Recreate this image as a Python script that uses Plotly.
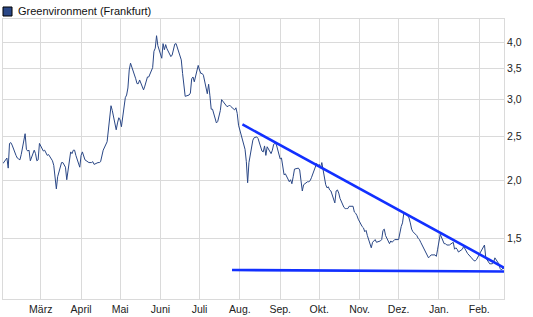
import numpy as np
import pandas as pd
import plotly.graph_objects as go

# Daily closing prices (EUR), trading days 2008-02-01 .. 2009-02-20
prices = [
    2.18,
    2.24, 2.13, 2.41, 2.42, 2.39,
    2.27, 2.24, 2.23, 2.22, 2.28,
    2.53, 2.34, 2.32, 2.33, 2.21,
    2.33, 2.29, 2.21, 2.22, 2.41,
    2.32, 2.33, 2.30, 2.27, 2.28,
    2.21, 2.16, 2.03, 1.92, 2.04,
    2.19, 2.19, 2.17, 2.14, 2.01,
    2.31, 2.29, 2.33, 2.33, 2.27,
    2.14, 2.27, 2.31, 2.25, 2.22,
    2.19, 2.19, 2.19, 2.20, 2.17,
    2.19, 2.19, 2.20, 2.25, 2.33,
    2.43, 2.59, 2.77, 2.91, 2.84,
    2.58, 2.67, 2.74, 2.71, 2.62,
    3.03, 3.07, 3.18, 3.48, 3.60,
    3.41, 3.33, 3.25, 3.25, 3.31,
    3.15, 3.21, 3.29, 3.36, 3.36,
    3.52, 3.82, 3.88, 4.13, 3.93,
    3.69, 3.97, 3.85, 3.95, 3.87,
    3.72, 3.75, 3.89, 3.96, 3.97,
    3.71, 3.66, 3.42, 3.17, 3.05,
    3.07, 3.10, 3.33, 3.36, 3.28,
    3.56, 3.48, 3.42, 3.42, 3.39,
    3.09, 3.24, 3.06, 2.86, 2.86,
    2.67, 2.69, 2.76, 2.84, 3.00,
    2.91, 2.90, 2.90, 2.92, 2.90,
    2.85, 2.88, 2.80, 2.64, 2.58,
    2.39, 2.34, 2.20, 1.98, 2.19,
    2.45, 2.48, 2.49, 2.49, 2.47,
    2.32, 2.31, 2.38, 2.27, 2.37,
    2.29, 2.33, 2.40, 2.41, 2.40,
    2.23, 2.24, 2.15, 2.06, 2.07,
    1.99, 2.01, 1.97, 2.04, 2.12,
    2.13, 2.11, 2.00, 1.90, 1.96,
    1.99, 1.99, 2.00, 2.03, 2.07,
    2.18, 2.15, 2.17, 2.13, 2.19,
    1.96, 1.93, 1.94, 1.91, 1.90,
    1.79, 1.90, 1.91, 1.88, 1.83,
    1.75, 1.74, 1.74, 1.74, 1.76,
    1.76, 1.71, 1.70, 1.68, 1.65,
    1.59, 1.58, 1.55, 1.56, 1.52,
    1.43, 1.47, 1.48, 1.49, 1.47,
    1.48, 1.49, 1.56, 1.57, 1.52,
    1.46, 1.48, 1.47, 1.48, 1.49,
    1.49, 1.56, 1.59, 1.62, 1.70,
    1.68, 1.66, 1.62, 1.57, 1.55,
    1.52, 1.50, 1.49, 1.47, 1.45,
    1.40, 1.38, 1.36, 1.37, 1.38,
    1.38, 1.37, 1.42, 1.48, 1.53,
    1.46, 1.46, 1.45, 1.45, 1.45,
    1.47, 1.42, 1.43, 1.42, 1.40,
    1.42, 1.44, 1.42, 1.40, 1.39,
    1.36, 1.35, 1.34, 1.34, 1.35,
    1.40, 1.42, 1.44, 1.45, 1.36,
    1.32, 1.32, 1.32, 1.33, 1.36,
    1.32, 1.29, 1.28, 1.29, 1.30,
]
dates = pd.bdate_range("2008-02-01", "2009-02-20")[:len(prices)]

# Hand-drawn trend lines (date, price)
resist_dates = ["2008-08-03", "2009-02-21"]
resist_vals = [2.65, 1.29]
support_dates = ["2008-07-26", "2009-02-21"]
support_vals = [1.28, 1.27]

month_ticks = ["2008-03-01", "2008-04-01", "2008-05-01", "2008-06-01", "2008-07-01",
               "2008-08-01", "2008-09-01", "2008-10-01", "2008-11-01", "2008-12-01",
               "2009-01-01", "2009-02-01"]
month_labels = ["März", "April", "Mai", "Juni", "Juli", "Aug.", "Sep.", "Okt.",
                "Nov.", "Dez.", "Jan.", "Feb."]
y_ticks = [1.5, 2.0, 2.5, 3.0, 3.5, 4.0]
y_labels = ["1,5", "2,0", "2,5", "3,0", "3,5", "4,0"]
series_name = "Greenvironment (Frankfurt)"

LINE = "#2a4786"
TREND = "#1230ff"
GRID = "#dadada"
FONT = "Liberation Sans"

fig = go.Figure()
fig.add_trace(go.Scatter(x=dates, y=prices, mode="lines",
                         line=dict(color=LINE, width=1), showlegend=False,
                         hoverinfo="skip"))
fig.add_trace(go.Scatter(x=resist_dates, y=resist_vals, mode="lines",
                         line=dict(color=TREND, width=2.6), showlegend=False,
                         hoverinfo="skip"))
fig.add_trace(go.Scatter(x=support_dates, y=support_vals, mode="lines",
                         line=dict(color=TREND, width=2.6), showlegend=False,
                         hoverinfo="skip"))

fig.update_layout(
    width=533, height=317,
    margin=dict(l=3, r=29, t=19, b=18),
    paper_bgcolor="white", plot_bgcolor="white",
    font=dict(family=FONT, size=11, color="#222"),
    showlegend=False,
    xaxis=dict(type="date", range=["2008-02-01", "2009-02-20"],
               tickvals=month_ticks, ticktext=month_labels,
               showgrid=True, gridcolor=GRID, gridwidth=1,
               showline=True, linecolor=GRID, linewidth=1, mirror=True,
               ticks="", tickfont=dict(size=10.5, color="#222"), fixedrange=True),
    yaxis=dict(type="log", range=[np.log10(1.107), np.log10(4.49)],
               side="right", tickvals=y_ticks, ticktext=y_labels,
               showgrid=True, gridcolor=GRID, gridwidth=1,
               showline=True, linecolor=GRID, linewidth=1, mirror=True,
               ticks="", tickfont=dict(size=10.5, color="#222"), fixedrange=True),
)

# Legend-like header: square swatch + series name
fig.add_shape(type="rect", xref="paper", yref="paper",
              x0=0.0, x1=0.018, y0=1.0107, y1=1.0429,
              fillcolor=LINE, line=dict(color="#000", width=1))
fig.add_annotation(text=series_name, xref="paper", yref="paper",
                   x=0.026, y=1.027, xanchor="left", yanchor="middle",
                   showarrow=False, font=dict(family=FONT, size=11, color="#111"))

fig.write_html("out.html")
